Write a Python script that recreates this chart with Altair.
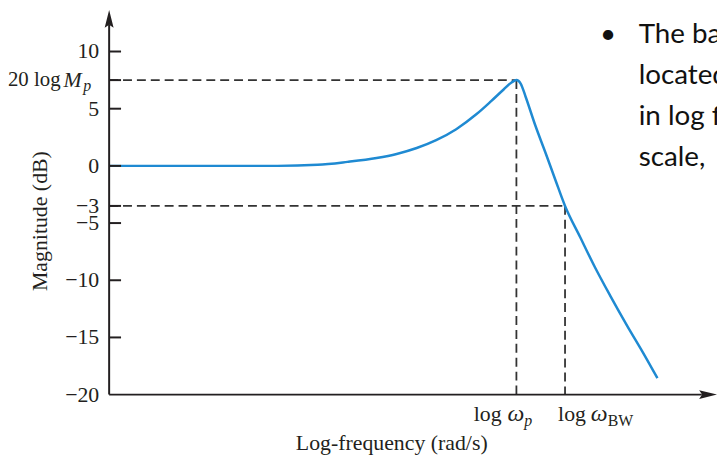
import altair as alt
import pandas as pd

# ---------------- data ----------------
# log-frequency (arbitrary units, 0..10 along the axis) and magnitude in dB
freq = [0, 2.77, 3.43, 3.92, 4.40, 4.73, 5.06, 5.38, 5.71, 6.04, 6.28, 6.49, 6.62,
        6.70, 6.77, 6.85, 7.01, 7.18, 7.34, 7.50, 7.75, 7.99, 8.24, 8.52, 8.78, 9.02]
mag = [0, 0, 0.09, 0.35, 0.69, 1.04, 1.56, 2.25, 3.21, 4.51, 5.64, 6.68, 7.29,
       7.5, 7.2, 6.07, 3.55, 1.13, -1.21, -3.5, -6.24, -8.84, -11.32, -13.96, -16.30, -18.56]

MP_DB = 7.5        # 20 log Mp
W_P = 6.70         # log wp
W_BW = 7.50        # log wBW
BW_DB = -3.5       # the "-3 dB" level as drawn

y_tick_values = [10, 5, 0, BW_DB, -5, -10, -15, -20]
y_tick_labels = ["10", "5", "0", "\u22123", "\u22125", "\u221210", "\u221215", "\u221220"]
mp_tick = [MP_DB]

slide_lines = ["The band", "located", "in log fr", "scale,"]
slide_rows = [0, 1, 2, 3]

Y_MIN, Y_TOP = -20, 13.64
X_MIN, X_MAX = 0, 10

# ---------------- styling ----------------
W, H = 613, 388
BLUE = "#1f8ad2"
INK = "#231f20"
DASH = "#333333"
SERIF = "Liberation Serif"
FS = 22

xs = alt.Scale(domain=[X_MIN, X_MAX], nice=False, zero=False)
ys = alt.Scale(domain=[Y_MIN, Y_TOP], nice=False, zero=False)


def X(f):
    return alt.X(f, type="quantitative", scale=xs, axis=None)


def Y(f):
    return alt.Y(f, type="quantitative", scale=ys, axis=None)


curve_df = pd.DataFrame({"f": freq, "m": mag})
hdash_df = pd.DataFrame({"x0": [X_MIN, X_MIN], "x1": [W_P, W_BW], "y": [MP_DB, BW_DB]})
vdash_df = pd.DataFrame({"x": [W_P, W_BW], "y0": [MP_DB, BW_DB], "y1": [Y_MIN, Y_MIN]})
ticks_df = pd.DataFrame({"v": y_tick_values + mp_tick})
ticks_df = ticks_df[ticks_df["v"] != Y_MIN]
labels_df = pd.DataFrame({"v": y_tick_values, "t": y_tick_labels})
yaxis_df = pd.DataFrame({"x": [X_MIN], "y0": [Y_MIN], "y1": [Y_TOP - 1.3]})
xaxis_df = pd.DataFrame({"y": [Y_MIN], "x0": [X_MIN], "x1": [X_MAX - 0.25]})
yarrow_df = pd.DataFrame({"x": [X_MIN], "y": [Y_TOP]})
xarrow_df = pd.DataFrame({"x": [X_MAX], "y": [Y_MIN]})
mp_df = pd.DataFrame({"v": [MP_DB]})
wp_df = pd.DataFrame({"w": [W_P], "y": [Y_MIN]})
wbw_df = pd.DataFrame({"w": [W_BW], "y": [Y_MIN]})
slide_df = pd.DataFrame({"t": slide_lines, "row": slide_rows})

dash = [9, 5]

curve = alt.Chart(curve_df).mark_line(color=BLUE, strokeWidth=2.5, interpolate="monotone").encode(
    x=X("f"), y=Y("m"))

hdash = alt.Chart(hdash_df).mark_rule(color=DASH, strokeWidth=1.8, strokeDash=dash).encode(
    x=X("x0"), x2="x1", y=Y("y"))
vdash = alt.Chart(vdash_df).mark_rule(color=DASH, strokeWidth=1.8, strokeDash=dash).encode(
    x=X("x"), y=Y("y0"), y2="y1")

yaxis = alt.Chart(yaxis_df).mark_rule(color=INK, strokeWidth=2).encode(
    x=X("x"), y=Y("y0"), y2="y1")
xaxis = alt.Chart(xaxis_df).mark_rule(color=INK, strokeWidth=2).encode(
    x=X("x0"), x2="x1", y=Y("y"))

yarrow = alt.Chart(yarrow_df).mark_point(
    shape="M0,0L-0.45,1.8L0,1.5L0.45,1.8Z", filled=True, size=400, color=INK, opacity=1
).encode(x=X("x"), y=Y("y"))
xarrow = alt.Chart(xarrow_df).mark_point(
    shape="M0,0L-1.8,-0.45L-1.5,0L-1.8,0.45Z", filled=True, size=400, color=INK, opacity=1
).encode(x=X("x"), y=Y("y"))

yticks = alt.Chart(ticks_df).mark_rule(color=INK, strokeWidth=2).encode(
    x=alt.value(0), x2=alt.value(12), y=Y("v"))

ylabels = alt.Chart(labels_df).mark_text(
    font=SERIF, fontSize=FS, color=INK, align="right", baseline="middle"
).encode(x=alt.value(-10), y=Y("v"), text="t")

mp_a = alt.Chart(mp_df).mark_text(
    font=SERIF, fontSize=21, color=INK, align="right", baseline="middle", text="20 log"
).encode(x=alt.value(-49), y=Y("v"))
mp_b = alt.Chart(mp_df).mark_text(
    font=SERIF, fontSize=FS, fontStyle="italic", color=INK, align="left", baseline="middle", text="M"
).encode(x=alt.value(-46), y=Y("v"))
mp_c = alt.Chart(mp_df).mark_text(
    font=SERIF, fontSize=16, fontStyle="italic", color=INK, align="left", baseline="middle", text="p", dy=6
).encode(x=alt.value(-26), y=Y("v"))


def xlab(df, text, dx, dy, size=FS, style="normal"):
    return alt.Chart(df).mark_text(
        font=SERIF, fontSize=size, fontStyle=style, color=INK, align="left",
        baseline="alphabetic", text=text, dx=dx, dy=dy
    ).encode(x=X("w"), y=Y("y"))


base_dy = 27
wp_labels = (xlab(wp_df, "log", -43, base_dy) + xlab(wp_df, "\u03c9", -9, base_dy, size=24, style="italic")
             + xlab(wp_df, "p", 8, base_dy + 5, size=16, style="italic"))
wbw_labels = (xlab(wbw_df, "log", -7, base_dy) + xlab(wbw_df, "\u03c9", 26, base_dy, size=24, style="italic")
              + xlab(wbw_df, "BW", 43, base_dy + 5, size=16))

ytitle = alt.Chart(mp_df).mark_text(
    font=SERIF, fontSize=FS, color=INK, align="center", baseline="middle", angle=270,
    text="Magnitude (dB)"
).encode(x=alt.value(-70), y=alt.value(213))
xtitle = alt.Chart(mp_df).mark_text(
    font=SERIF, fontSize=FS, color=INK, align="center", baseline="middle",
    text="Log-frequency (rad/s)"
).encode(x=alt.value(285), y=alt.value(437))

bullet = alt.Chart(mp_df).mark_text(
    font="Lato", fontSize=28, color="#111111", align="center", baseline="middle", text="\u2022"
).encode(x=alt.value(503), y=alt.value(25))
slide = alt.Chart(slide_df).mark_text(
    font="Lato", fontSize=28, color="#111111", align="left", baseline="middle"
).encode(
    x=alt.value(534),
    y=alt.Y("row:Q", axis=None, scale=alt.Scale(domain=[0, 3], range=[25, 149], nice=False, zero=False)),
    text="t")

chart = alt.layer(
    hdash, vdash, curve, yaxis, xaxis, yarrow, xarrow, yticks, ylabels,
    mp_a, mp_b, mp_c, wp_labels, wbw_labels, ytitle, xtitle, bullet, slide
).resolve_scale(y="independent").properties(
    width=W, height=H,
    autosize=alt.AutoSizeParams(type="none"),
    padding={"left": 102, "top": 0, "right": 0, "bottom": 60},
    background="white",
).configure_view(stroke=None)

chart.save("out.html", embed_options={"renderer": "svg", "actions": False})
